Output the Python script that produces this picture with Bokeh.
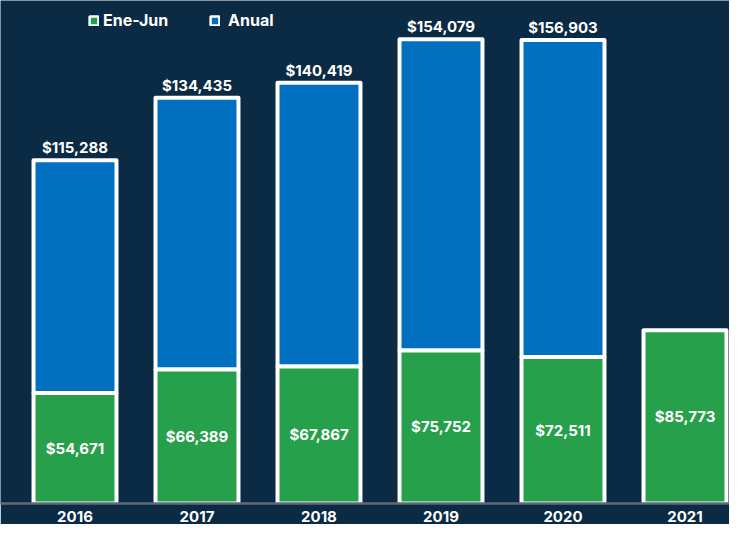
from bokeh.plotting import figure
from bokeh.models import ColumnDataSource, Range1d, FixedTicker, Legend, LegendItem
from bokeh.core.properties import value
from bokeh.embed import file_html
from bokeh.resources import INLINE

years = ["2016", "2017", "2018", "2019", "2020", "2021"]
ene_jun = [54671, 66389, 67867, 75752, 72511, 85773]
anual = [115288, 134435, 140419, 154079, 156903, None]
legend_labels = ["Ene-Jun", " Anual"]

BG = "#0b2a44"
GREEN = "#27a04b"
BLUE = "#006fc0"
FONT = "Inter"

xs = list(range(len(years)))
a_idx = [i for i, v in enumerate(anual) if v is not None]

src_g = ColumnDataSource(dict(
    x=xs, top=ene_jun, mid=[v / 2 for v in ene_jun],
    label=["${:,}".format(v) for v in ene_jun]))
src_b = ColumnDataSource(dict(
    x=[xs[i] for i in a_idx],
    bottom=[ene_jun[i] for i in a_idx],
    top=[ene_jun[i] + anual[i] for i in a_idx],
    label=["${:,}".format(anual[i]) for i in a_idx]))

STEP = 122.0
X0 = 74.5
p = figure(width=729, height=524, output_backend="svg", toolbar_location=None,
           x_range=Range1d(-X0 / STEP, (729 - X0) / STEP), y_range=Range1d(0, 249000),
           y_axis_location=None, min_border_left=0, min_border_right=0,
           min_border_top=0, min_border_bottom=0)
p.background_fill_color = BG
p.border_fill_color = BG
p.outline_line_color = None
p.xgrid.visible = False
p.ygrid.visible = False

W = 0.68
p.vbar(x="x", bottom="bottom", top="top", width=W, source=src_b,
       fill_color=BLUE, line_color="white", line_width=4, line_join="round")
p.vbar(x="x", bottom=0, top="top", width=W, source=src_g,
       fill_color=GREEN, line_color="white", line_width=4, line_join="round")

p.text(x="x", y="top", text="label", source=src_b, text_color="white",
       text_font=value(FONT), text_font_style="bold", text_font_size="15px",
       text_align="center", text_baseline="bottom", y_offset=-3)
p.text(x="x", y="mid", text="label", source=src_g, text_color="white",
       text_font=value(FONT), text_font_style="bold", text_font_size="15px",
       text_align="center", text_baseline="middle")

# legend-only renderers (hidden, used only for legend swatches)
lg = p.vbar(x=xs[:1], top=ene_jun[:1], width=W, fill_color=GREEN,
            line_color="white", line_width=2.5, visible=False)
lb = p.vbar(x=xs[:1], top=ene_jun[:1], width=W, fill_color=BLUE,
            line_color="white", line_width=2.5, visible=False)
legend = Legend(items=[LegendItem(label=legend_labels[0], renderers=[lg]),
                       LegendItem(label=legend_labels[1], renderers=[lb])],
                orientation="horizontal", location=(88, 473))
legend.background_fill_alpha = 0
legend.border_line_alpha = 0
legend.inactive_fill_alpha = 0
legend.label_text_color = "white"
legend.label_text_font = FONT
legend.label_text_font_style = "bold"
legend.label_text_font_size = "16px"
legend.glyph_width = 11
legend.glyph_height = 11
legend.label_standoff = 4
legend.spacing = 41
legend.padding = 0
legend.margin = 0
p.add_layout(legend, "center")

ax = p.xaxis[0]
ax.ticker = FixedTicker(ticks=xs)
ax.major_label_overrides = {i: y for i, y in zip(xs, years)}
ax.axis_line_color = "#606b76"
ax.axis_line_width = 2.5
ax.major_tick_line_color = None
ax.minor_tick_line_color = None
ax.major_label_text_color = "white"
ax.major_label_text_font = FONT
ax.major_label_text_font_style = "bold"
ax.major_label_text_font_size = "15px"
ax.major_label_standoff = 1

html = file_html(p, INLINE)
html = html.replace("<body>", '<body style="background:%s">' % BG, 1)
open("out.html", "w").write(html)
